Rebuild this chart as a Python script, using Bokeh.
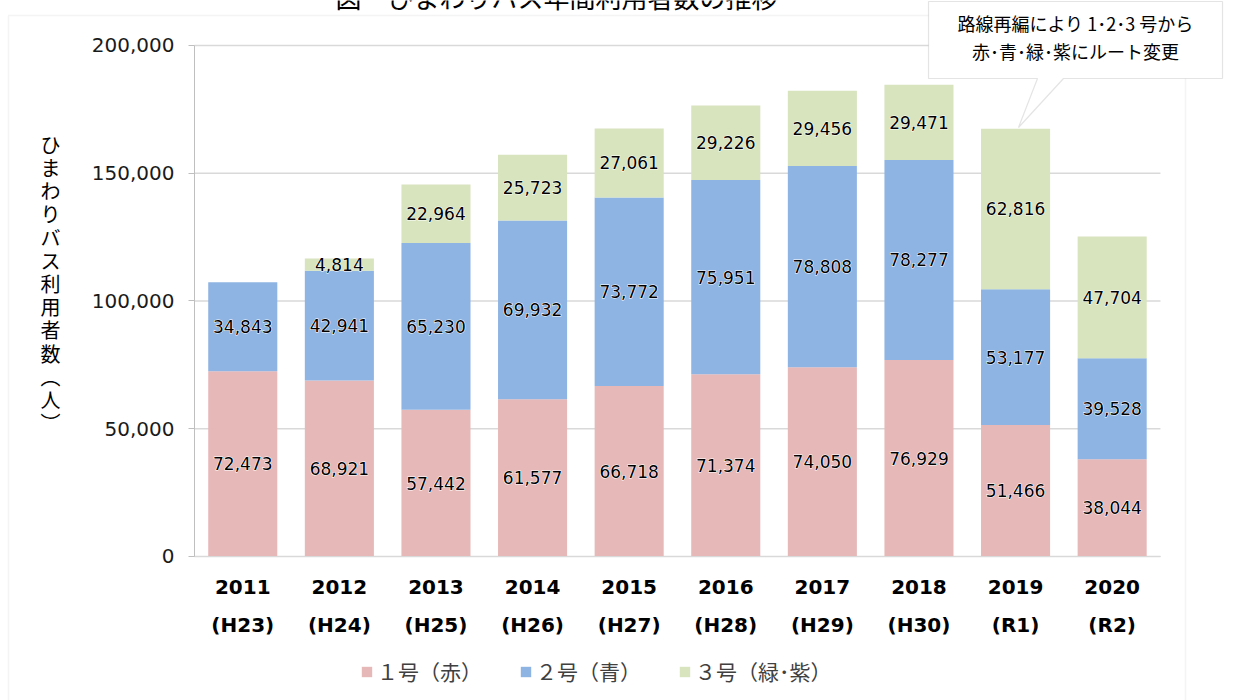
from bokeh.plotting import figure
from bokeh.models import (ColumnDataSource, Range1d, NumeralTickFormatter,
                          Label, BoxAnnotation, PolyAnnotation, Legend, LegendItem, FixedTicker)
from bokeh.core.properties import value
from bokeh.embed import file_html
from bokeh.resources import INLINE

years = ["2011\n(H23)", "2012\n(H24)", "2013\n(H25)", "2014\n(H26)", "2015\n(H27)",
         "2016\n(H28)", "2017\n(H29)", "2018\n(H30)", "2019\n(R1)", "2020\n(R2)"]
route1 = [72473, 68921, 57442, 61577, 66718, 71374, 74050, 76929, 51466, 38044]
route2 = [34843, 42941, 65230, 69932, 73772, 75951, 78808, 78277, 53177, 39528]
route3 = [0, 4814, 22964, 25723, 27061, 29226, 29456, 29471, 62816, 47704]
series_names = ["１号（赤）", "２号（青）", "３号（緑･紫）"]
colors = ["#E6B9B8", "#8EB4E3", "#D7E4BD"]
yticks = [0, 50000, 100000, 150000, 200000]

idx = list(range(len(years)))
src = ColumnDataSource(dict(x=idx, r1=route1, r2=route2, r3=route3))

# the frame fills the whole canvas; axes are pinned inside it with fixed_location
p = figure(width=1244, height=700, x_range=Range1d(-2.508, 10.37), y_range=Range1d(-56360, 217612),
           output_backend="svg", toolbar_location=None,
           min_border_left=0, min_border_right=0, min_border_top=0, min_border_bottom=0)
p.outline_line_color = None
p.background_fill_color = "white"
p.border_fill_color = "white"

# gridlines (limited to the plot area)
p.xgrid.visible = False
p.ygrid.visible = False
p.segment(x0=-0.5, x1=len(years) - 0.5, y0=yticks, y1=yticks, line_color="#d9d9d9", line_width=1.3)

rs = p.vbar_stack(["r1", "r2", "r3"], x="x", width=0.715, color=colors, source=src, line_color=None)

# value labels
lx, ly, lt = [], [], []
for i in idx:
    b = 0
    for v in (route1[i], route2[i], route3[i]):
        if v > 0:
            lx.append(i); ly.append(b + v / 2); lt.append(f"{v:,}")
        b += v
lsrc = ColumnDataSource(dict(x=lx, y=ly, t=lt))
p.text(x="x", y="y", text="t", source=lsrc, text_align="center", text_baseline="middle",
       text_font=value("DejaVu Sans"), text_font_size="17px", text_color="white",
       text_outline_color="white")
p.text(x="x", y="y", text="t", source=lsrc, text_align="center", text_baseline="middle",
       text_font=value("DejaVu Sans"), text_font_size="17px", text_color="#000000")

p.yaxis.fixed_location = -0.5
p.yaxis.bounds = (0, 200000)
p.yaxis.ticker = FixedTicker(ticks=yticks)
p.yaxis.formatter = NumeralTickFormatter(format="0,0")
p.yaxis.axis_line_color = "#bfbfbf"
p.yaxis.major_tick_line_color = "#bfbfbf"
p.yaxis.major_tick_out = 6
p.yaxis.major_tick_in = 0
p.yaxis.minor_tick_line_color = None
p.yaxis.major_label_standoff = 14
p.yaxis.major_label_text_font = "DejaVu Sans"
p.yaxis.major_label_text_font_size = "20px"
p.yaxis.major_label_text_color = "#1a1a1a"

p.xaxis.fixed_location = 0
p.xaxis.bounds = (-0.5, len(years) - 0.5)
p.xaxis.ticker = FixedTicker(ticks=idx)
p.xaxis.major_label_overrides = {i: y for i, y in zip(idx, years)}
p.xaxis.axis_line_color = "#d9d9d9"
p.xaxis.major_tick_line_color = None
p.xaxis.minor_tick_line_color = None
p.xaxis.major_label_standoff = 13
p.xaxis.major_label_text_font = "DejaVu Sans"
p.xaxis.major_label_text_font_style = "bold"
p.xaxis.major_label_text_font_size = "20px"
p.xaxis.major_label_text_color = "#000000"
p.xaxis.major_label_text_line_height = 1.55

# outer chart border
p.add_layout(BoxAnnotation(left=8, right=1185, top=15, bottom=720,
                           left_units="canvas", right_units="canvas", top_units="canvas", bottom_units="canvas",
                           fill_color=None, fill_alpha=0, line_color="#d9d9d9", line_width=1.5))

# vertical y-axis title
ylabel = "ひまわりバス利用者数︵人︶"
p.add_layout(Label(x=50, y=283, x_units="canvas", y_units="canvas", text="\n".join(ylabel),
                   text_align="center", text_baseline="middle", text_font="Noto Sans CJK JP",
                   text_font_size="20px", text_line_height=0.8, text_color="#000000"))

# title (cropped by the top edge)
p.add_layout(Label(x=556, y=-4, x_units="canvas", y_units="canvas", text="図　ひまわりバス年間利用者数の推移",
                   text_align="center", text_baseline="middle", text_font="Noto Sans CJK JP",
                   text_font_size="26px", text_color="#000000"))

# callout
p.add_layout(PolyAnnotation(xs=[928, 1222, 1222, 1063, 1018, 1037, 928], ys=[1, 1, 78, 78, 127, 78, 78],
                            xs_units="canvas", ys_units="canvas", fill_color="white", fill_alpha=1,
                            line_color="#a6a6a6", line_width=1.2))
p.add_layout(Label(x=1075, y=22, x_units="canvas", y_units="canvas", text="路線再編により 1･2･3 号から",
                   text_align="center", text_baseline="middle", text_font="Noto Sans CJK JP",
                   text_font_size="18px", text_color="#000000"))
p.add_layout(Label(x=1075, y=50, x_units="canvas", y_units="canvas", text="赤･青･緑･紫にルート変更",
                   text_align="center", text_baseline="middle", text_font="Noto Sans CJK JP",
                   text_font_size="18px", text_color="#000000"))

legend = Legend(items=[LegendItem(label=n, renderers=[r]) for n, r in zip(series_names, rs)],
                orientation="horizontal", location=(360, 14), border_line_color=None,
                background_fill_alpha=0, label_text_font="Noto Sans CJK JP", label_text_font_size="21px",
                label_text_color="#404040", glyph_width=13, glyph_height=13, label_standoff=4,
                spacing=37, padding=4, margin=0)
p.add_layout(legend, "center")

open("out.html", "w").write(file_html(p, INLINE))
